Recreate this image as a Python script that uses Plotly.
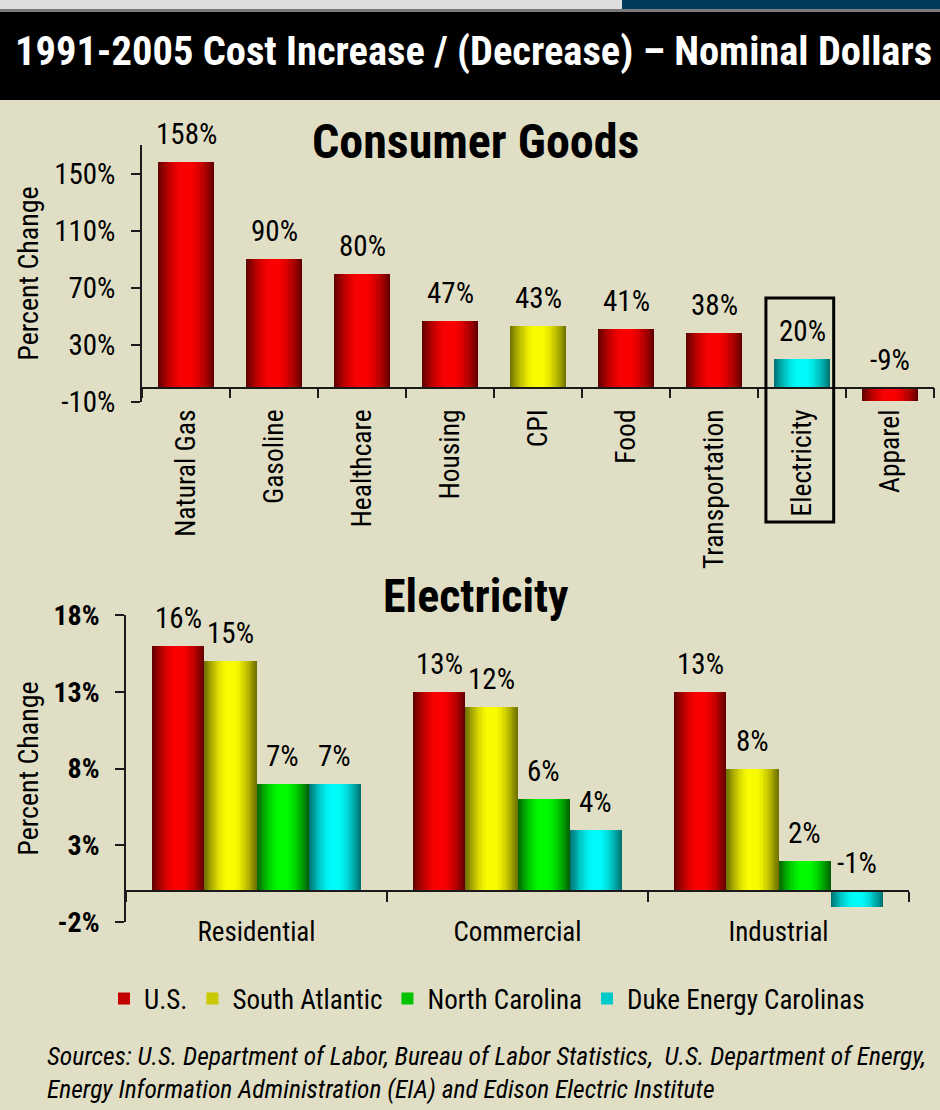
import math
import plotly.graph_objects as go

# ---------------- data ----------------
goods = ["Natural Gas", "Gasoline", "Healthcare", "Housing", "CPI", "Food",
         "Transportation", "Electricity", "Apparel"]
goods_pct = [158, 90, 80, 47, 43, 41, 38, 20, -9]
goods_ticks = [-10, 30, 70, 110, 150]

sectors = ["Residential", "Commercial", "Industrial"]
us_pct = [16, 13, 13]
south_atlantic_pct = [15, 12, 8]
north_carolina_pct = [7, 6, 2]
duke_pct = [7, 4, -1]
series_names = ["U.S.", "South Atlantic", "North Carolina", "Duke Energy Carolinas"]
elec_ticks = [-2, 3, 8, 13, 18]

# ---------------- styles ----------------
W, H = 940, 1110
BG = "#E0DFC5"
NARROW = "Roboto Condensed, Liberation Sans, sans-serif"
PALETTE = {
    "red": ((95, 0, 0), (255, 0, 0)),
    "yellow": ((110, 110, 0), (255, 255, 0)),
    "green": ((0, 95, 0), (0, 255, 0)),
    "cyan": ((0, 110, 110), (0, 255, 255)),
}
goods_color = {"CPI": "yellow", "Electricity": "cyan"}  # others red
series_color = ["red", "yellow", "green", "cyan"]

N_LAYERS = 20
P = 1.0


def mix(key, b):
    d, br = PALETTE[key]
    return "rgb(%d,%d,%d)" % tuple(round(d[i] + (br[i] - d[i]) * b) for i in range(3))


def layers():
    out = []
    for k in range(N_LAYERS):
        t = k / N_LAYERS
        u = math.asin(t ** (1 / P)) / math.pi
        b = (k + 0.5) / N_LAYERS
        out.append((u, b))
    return out


def px_x(p):
    return p / W


def px_y(p):
    return 1 - p / H


TOP_X = [px_x(142), px_x(934)]
TOP_Y = [px_y(402), px_y(145)]
TOP_RANGE = [-10, 170]
BOT_X = [px_x(126), px_x(909)]
BOT_Y = [px_y(922), px_y(615)]
BOT_RANGE = [-2, 18]


def zero_pos(dom, rng):
    return dom[0] + (0 - rng[0]) / (rng[1] - rng[0]) * (dom[1] - dom[0])


fig = go.Figure()

# ---------- top chart: consumer goods (gradient bars via nested layers) ----------
BW = 0.64
for k, (u, b) in enumerate(layers()):
    fig.add_trace(go.Bar(
        x=goods, y=goods_pct,
        width=BW * (1 - 2 * u), offset=-BW / 2 + BW * u,
        marker=dict(color=[mix(goods_color.get(g, "red"), b) for g in goods],
                    line=dict(width=0)),
        xaxis="x", yaxis="y", showlegend=False,
        hoverinfo="skip" if k else "x+y",
    ))

# ---------- bottom chart: electricity ----------
series_vals = [us_pct, south_atlantic_pct, north_carolina_pct, duke_pct]
GW = 0.2
legend_k = int(N_LAYERS * 0.6)
for j, (name, vals) in enumerate(zip(series_names, series_vals)):
    for k, (u, b) in enumerate(layers()):
        fig.add_trace(go.Bar(
            x=sectors, y=vals, name=name, legendgroup=name,
            width=GW * (1 - 2 * u), offset=-2 * GW + GW * j + GW * u,
            marker=dict(color=mix(series_color[j], b), line=dict(width=0)),
            xaxis="x2", yaxis="y2", showlegend=(k == legend_k),
            hoverinfo="skip" if k else "x+y+name",
        ))

annotations = []
for g, v in zip(goods, goods_pct):
    annotations.append(dict(x=g, y=max(v, 0), xref="x", yref="y", text=f"{v}%",
                            showarrow=False, yanchor="bottom", yshift=9,
                            font=dict(size=29)))
for j, vals in enumerate(series_vals):
    for i, v in enumerate(vals):
        annotations.append(dict(x=i - 2 * GW + GW * (j + 0.5), y=max(v, 0), xref="x2", yref="y2",
                                text=f"{v}%", showarrow=False, yanchor="bottom", yshift=9,
                                font=dict(size=29)))

annotations.append(dict(x=px_x(473), y=px_y(51), xref="paper", yref="paper",
                        xanchor="center", yanchor="middle",
                        text="1991-2005 Cost Increase / (Decrease) \u2013 Nominal Dollars",
                        showarrow=False, font=dict(size=40.5, color="white", weight="bold")))
annotations.append(dict(x=px_x(475), y=px_y(141), xref="paper", yref="paper",
                        xanchor="center", yanchor="middle",
                        text="Consumer Goods", showarrow=False,
                        font=dict(size=48, weight="bold")))
annotations.append(dict(x=px_x(476), y=px_y(596), xref="paper", yref="paper",
                        xanchor="center", yanchor="middle",
                        text="Electricity", showarrow=False,
                        font=dict(size=46, weight="bold")))
annotations.append(dict(x=px_x(45), y=px_y(1039), xref="paper", yref="paper",
                        xanchor="left", yanchor="top", align="left",
                        text="Sources: U.S. Department of Labor, Bureau of Labor Statistics,  "
                             "U.S. Department of Energy,<br>Energy Information Administration (EIA) "
                             "and Edison Electric Institute",
                        showarrow=False, font=dict(size=25.5, style="italic")))

shapes = [
    dict(type="rect", xref="paper", yref="paper", x0=0, x1=px_x(622), y0=px_y(9), y1=1,
         fillcolor="#DEDEDE", line=dict(width=0), layer="below"),
    dict(type="rect", xref="paper", yref="paper", x0=px_x(622), x1=1, y0=px_y(9), y1=1,
         fillcolor="#003B5C", line=dict(width=0), layer="below"),
    dict(type="rect", xref="paper", yref="paper", x0=0, x1=1, y0=px_y(12), y1=px_y(9),
         fillcolor="#7A7A7A", line=dict(width=0), layer="below"),
    dict(type="rect", xref="paper", yref="paper", x0=0, x1=1, y0=px_y(100), y1=px_y(12),
         fillcolor="#000000", line=dict(width=0), layer="below"),
    dict(type="rect", xref="x", yref="paper",
         x0=goods.index("Electricity") - 0.41, x1=goods.index("Electricity") + 0.36,
         y0=px_y(522), y1=px_y(298), line=dict(color="black", width=3),
         fillcolor="rgba(0,0,0,0)"),
]

axis_common = dict(showline=True, linecolor="#1a1a1a", linewidth=1.5, showgrid=False,
                   zeroline=False, ticks="outside", tickcolor="#1a1a1a", tickwidth=1.5,
                   fixedrange=True, automargin=False)

fig.update_layout(
    width=W, height=H, margin=dict(l=0, r=0, t=0, b=0, autoexpand=False),
    paper_bgcolor=BG, plot_bgcolor="rgba(0,0,0,0)",
    barmode="overlay", bargap=0,
    font=dict(family=NARROW, size=27, color="black"),
    annotations=annotations, shapes=shapes,
    xaxis=dict(domain=TOP_X, anchor="free", position=zero_pos(TOP_Y, TOP_RANGE),
               type="category", range=[-0.5, len(goods) - 0.5], tickson="boundaries",
               ticklen=10, tickangle=-90, ticklabelstandoff=10,
               tickfont=dict(size=27.5), **axis_common),
    yaxis=dict(domain=TOP_Y, anchor="x", range=TOP_RANGE, tickvals=goods_ticks,
               ticktext=[f"{v}%" for v in goods_ticks], ticklen=9, ticklabelstandoff=10,
               tickfont=dict(size=29),
               title=dict(text="Percent Change", standoff=7, font=dict(size=28)),
               **axis_common),
    xaxis2=dict(domain=BOT_X, anchor="free", position=zero_pos(BOT_Y, BOT_RANGE),
                type="category", range=[-0.5, len(sectors) - 0.5], tickson="boundaries",
                ticklen=10, ticklabelstandoff=17, **axis_common),
    yaxis2=dict(domain=BOT_Y, anchor="x2", range=BOT_RANGE, tickvals=elec_ticks,
                ticktext=[f"{v}%" for v in elec_ticks], ticklen=9, ticklabelstandoff=10,
                tickfont=dict(size=28, weight="bold"),
                title=dict(text="Percent Change", standoff=7, font=dict(size=28)),
                **axis_common),
    legend=dict(orientation="h", x=px_x(487), xanchor="center", y=px_y(999), yanchor="middle",
                font=dict(size=27), bgcolor="rgba(0,0,0,0)", itemclick=False,
                itemdoubleclick=False, tracegroupgap=0),
)

fig.write_html("out.html", config={"displayModeBar": False},
               post_script="document.body.style.margin='0';document.body.style.padding='0';")
